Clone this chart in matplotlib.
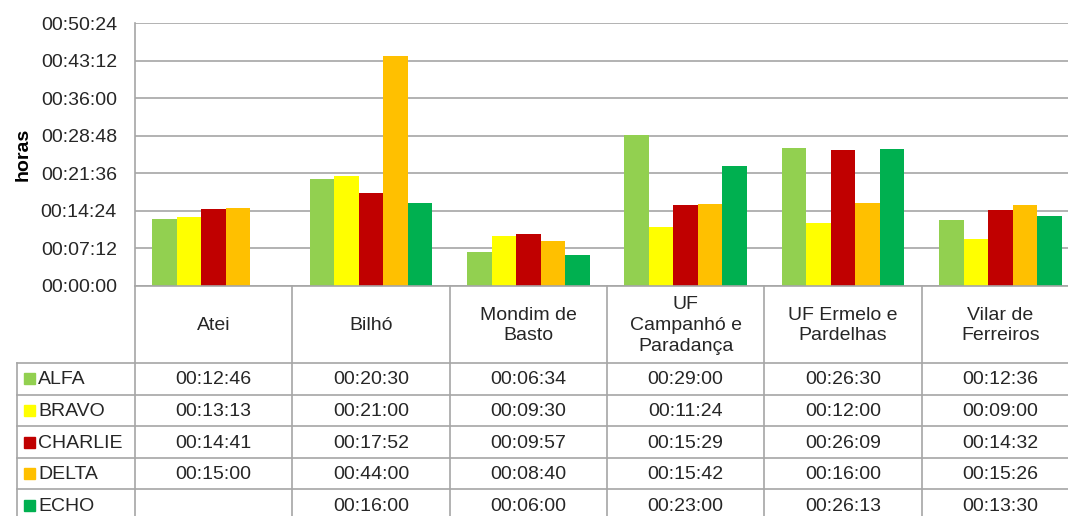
import numpy as np
import matplotlib.pyplot as plt

plt.rcParams['font.family'] = ['Liberation Sans', 'DejaVu Sans']

# freguesias (cabeçalho da tabela)
locais = ['Atei', 'Bilhó', 'Mondim de\nBasto', 'UF\nCampanhó e\nParadança',
          'UF Ermelo e\nPardelhas', 'Vilar de\nFerreiros']
series = ['ALFA', 'BRAVO', 'CHARLIE', 'DELTA', 'ECHO']
cores = ['#92D050', '#FFFF00', '#C00000', '#FFC000', '#00B050']

# tempos em "mm:ss" (None = sem registo)
alfa = ['12:46', '20:30', '06:34', '29:00', '26:30', '12:36']
bravo = ['13:13', '21:00', '09:30', '11:24', '12:00', '09:00']
charlie = ['14:41', '17:52', '09:57', '15:29', '26:09', '14:32']
delta = ['15:00', '44:00', '08:40', '15:42', '16:00', '15:26']
echo = [None, '16:00', '06:00', '23:00', '26:13', '13:30']
tempos = [alfa, bravo, charlie, delta, echo]


def segundos(t):
    if t is None:
        return np.nan
    m, s = t.split(':')
    return int(m) * 60 + int(s)


def hms(seg):
    seg = int(round(seg))
    return '%02d:%02d:%02d' % (seg // 3600, (seg % 3600) // 60, seg % 60)


valores = np.array([[segundos(t) for t in serie] for serie in tempos])

W, H = 1068, 516
fig = plt.figure(figsize=(W / 100, H / 100), dpi=100)

cor_linha = '#A6A6A6'
cor_texto = '#262626'
fs = 14

# área do gráfico (em píxeis)
x0, x1 = 135, 1079
y_top, y_zero = 23, 286
ax = fig.add_axes([x0 / W, (H - y_zero) / H, (x1 - x0) / W, (y_zero - y_top) / H])

n = len(locais)
largura = 0.156
x = np.arange(n)
for j, serie in enumerate(series):
    ax.bar(x + (j - 2) * largura, valores[j], width=largura, color=cores[j],
           edgecolor='none', zorder=3)

passo = 432
ax.set_ylim(0, 7 * passo)
ax.set_xlim(-0.5, n - 0.5)
ax.set_yticks(np.arange(0, 7 * passo + 1, passo))
ax.set_yticklabels([hms(v) for v in ax.get_yticks()], fontsize=fs, color=cor_texto)
ax.set_xticks([])
ax.tick_params(axis='y', length=0, pad=13)
ax.yaxis.grid(True, color=cor_linha, linewidth=1.2, zorder=0)
for lado in ['top', 'right', 'bottom']:
    ax.spines[lado].set_visible(False)
ax.spines['left'].set_color(cor_linha)
ax.spines['left'].set_linewidth(1.2)
ax.set_ylabel('horas', fontsize=fs, fontweight='bold', color='black')
ax.yaxis.set_label_coords(-0.11, 0.5)

# tabela de dados por baixo do gráfico
tb = fig.add_axes([0, 0, 1, 1])
tb.set_xlim(0, W)
tb.set_ylim(H, 0)
tb.axis('off')

col_w = (x1 - x0) / n
y_head = 363
alt_linha = 31.6
x_leg = 17

tb.plot([x0, x1], [y_zero, y_zero], color=cor_linha, lw=1.2)
for i in range(n + 1):
    xc = x0 + i * col_w
    tb.plot([xc, xc], [y_zero, H + 5], color=cor_linha, lw=1.2)
tb.plot([x_leg, x_leg], [y_head, H + 5], color=cor_linha, lw=1.2)
for k in range(len(series)):
    yl = y_head + k * alt_linha
    tb.plot([x_leg, x1], [yl, yl], color=cor_linha, lw=1.2)

for i, nome in enumerate(locais):
    tb.text(x0 + (i + 0.5) * col_w, (y_zero + y_head) / 2 + 1, nome, ha='center',
            va='center', fontsize=fs, color=cor_texto, linespacing=1.3)

for k, serie in enumerate(series):
    yc = y_head + (k + 0.5) * alt_linha
    tb.add_patch(plt.Rectangle((24, yc - 5.5), 11, 11, color=cores[k]))
    tb.text(38, yc + 1, serie, ha='left', va='center', fontsize=fs, color=cor_texto)
    for i in range(n):
        v = valores[k][i]
        if np.isnan(v):
            continue
        tb.text(x0 + (i + 0.5) * col_w, yc + 1, hms(v), ha='center', va='center',
                fontsize=fs, color=cor_texto)

fig.savefig('out.png', dpi=100)
